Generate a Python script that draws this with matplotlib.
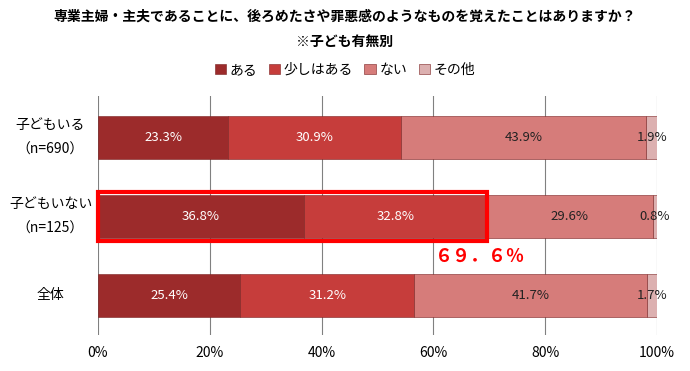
import matplotlib.pyplot as plt
from matplotlib.patches import Rectangle

plt.rcParams['font.family'] = ['Noto Sans CJK JP', 'DejaVu Sans']

groups = ['子どもいる\n（n=690）', '子どもいない\n（n=125）', '全体']
series = ['ある', '少しはある', 'ない', 'その他']
values = [
    [23.3, 36.8, 25.4],
    [30.9, 32.8, 31.2],
    [43.9, 29.6, 41.7],
    [1.9, 0.8, 1.7],
]
colors = ['#9c2b2b', '#c63d3b', '#d67c7a', '#dcb0b0']
text_colors = ['white', 'white', '#222222', '#222222']
highlight_total = 69.6

fig = plt.figure(figsize=(6.9, 3.71), dpi=100)
ax = fig.add_axes([98 / 690, 1 - 335 / 371, 559 / 690, 239 / 371])

ypos = [2, 1, 0]
left = [0, 0, 0]
for s, vals in enumerate(values):
    ax.barh(ypos, vals, left=left, height=0.545, color=colors[s],
            edgecolor='#7a2020', linewidth=0.4, label=series[s], zorder=3)
    for i, v in enumerate(vals):
        ax.text(left[i] + v / 2, ypos[i], f'{v}%', ha='center', va='center',
                fontsize=9.5, color=text_colors[s], zorder=5)
    left = [l + v for l, v in zip(left, vals)]

# highlight box around row 2
ax.add_patch(Rectangle((0, 1 - 0.31), highlight_total, 0.62, fill=False,
                       edgecolor='#ff0000', linewidth=3, zorder=6,
                       clip_on=False))
ax.text(highlight_total - 1.2, 0.5, '６９．６％', ha='center', va='center',
        fontsize=13, color='#ff0000', fontweight='bold')

ax.set_xlim(0, 100)
ax.set_ylim(-0.5, 2.525)
ax.set_xticks([0, 20, 40, 60, 80, 100])
ax.set_xticklabels(['0%', '20%', '40%', '60%', '80%', '100%'], fontsize=10)
ax.xaxis.grid(True, color='#808080', linewidth=0.8, zorder=0)
ax.tick_params(axis='x', length=0, pad=8)
ax.set_yticks([])
for sp in ax.spines.values():
    sp.set_visible(False)

for i, g in enumerate(groups):
    ax.text(-8.5, ypos[i], g, ha='center', va='center', fontsize=10,
            linespacing=2.0)

fig.text(0.5, 1 - 17 / 371, '専業主婦・主夫であることに、後ろめたさや罪悪感のようなものを覚えたことはありますか？',
         ha='center', va='center', fontsize=10, fontweight='bold')
fig.text(0.5, 1 - 42 / 371, '※子ども有無別', ha='center', va='center',
         fontsize=10, fontweight='bold')

fig.legend(loc='center', bbox_to_anchor=(0.5, 1 - 70 / 371), ncol=4,
           frameon=False, fontsize=10, handlelength=0.8, handleheight=0.8,
           handletextpad=0.3, columnspacing=0.8)

fig.savefig('out.png', dpi=100)
